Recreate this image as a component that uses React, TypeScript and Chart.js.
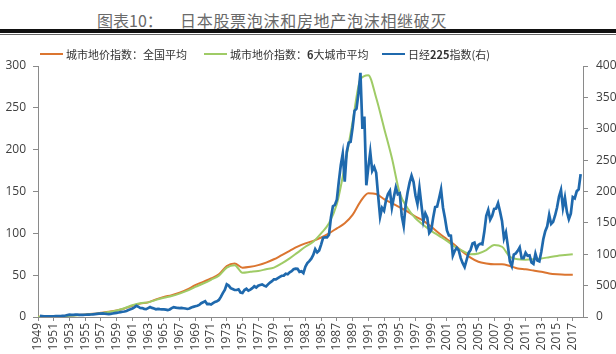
import React, { useEffect, useRef } from "react";
import { Chart, registerables } from "chart.js";

Chart.register(...registerables);

// ---------- DATA ----------
const landStartYear = 1949;
// 城市地价指数：全国平均 (annual, 1949-2017)
const nationalLandIndex = [
  0.3, 0.5, 0.8, 1.2, 1.8, 2.4, 3.0, 3.8, 5.0, 6.2,
  7.8, 10.2, 13.5, 16, 17.5, 21, 24, 26, 29, 33,
  38, 42, 46, 51, 61, 64, 59, 60, 62, 65,
  69, 74, 79, 84, 88, 91, 95, 100, 106, 112,
  122, 138, 148, 147, 141, 136, 131, 126, 120, 115,
  108, 100, 93, 86, 78, 71, 66, 64, 63, 63,
  61, 58, 57, 55.5, 54, 52, 51, 50.5, 50.5,
];
// 城市地价指数：6大城市平均 (annual, 1949-2017)
const sixCitiesLandIndex = [
  0.2, 0.4, 0.7, 1.0, 1.5, 2.0, 2.7, 3.5, 4.6, 6.0,
  7.8, 10.5, 14, 16.5, 17.5, 20.5, 23, 25, 28, 31.5,
  36, 40, 44.5, 49.5, 59, 62, 53, 54, 55, 57,
  59, 64, 70, 77, 84, 90, 100, 112, 135, 180,
  233, 284, 289, 262, 226, 190, 148, 130, 118, 110,
  103, 97, 91, 84, 79, 75, 76, 80, 86, 84,
  72, 69, 68.5, 69, 70, 71.5, 73, 74, 75,
];
// 日经225指数 (quarter-end closes, from 1949 Q2)
const nikkeiStart = 1949.25;
const nikkeiStep = 0.25;
const nikkeiQuarterly = [
  176, 150, 118, 109,
  100, 92, 95, 101,
  125, 140, 155, 166,
  200, 240, 300, 362,
  340, 350, 365, 377,
  350, 335, 340, 356,
  365, 375, 395, 425,
  460, 490, 525, 549,
  570, 520, 490, 474,
  510, 560, 610, 666,
  720, 780, 830, 874,
  960, 1100, 1220, 1356,
  1550, 1780, 1640, 1432,
  1420, 1300, 1250, 1420,
  1580, 1450, 1350, 1226,
  1300, 1250, 1220, 1216,
  1180, 1100, 1200, 1417,
  1560, 1500, 1440, 1430,
  1450, 1400, 1350, 1283,
  1350, 1500, 1620, 1715,
  1800, 1920, 2200, 2358,
  2500, 2050, 2100, 1987,
  2200, 2400, 2500, 2714,
  3200, 3800, 4300, 5207,
  5000, 4600, 4450, 4306,
  4300, 4400, 3900, 3817,
  4300, 4500, 4200, 4358,
  4600, 4900, 4700, 4990,
  5100, 5200, 5000, 4866,
  5200, 5500, 5700, 6001,
  6000, 6200, 6400, 6569,
  6600, 6900, 6800, 7116,
  7300, 7600, 7700, 7681,
  7200, 7300, 7000, 8016,
  8600, 8900, 9300, 9893,
  10800, 10300, 10600, 11542,
  12600, 12700, 12700, 13113,
  15860, 17654, 17853, 18701,
  21566, 24176, 26011, 21564,
  26260, 27769, 27924, 30159,
  32839, 33183, 35637, 38916,
  29980, 31940, 20984, 23849,
  26292, 23291, 23916, 22984,
  19346, 15951, 17399, 16925,
  18591, 19590, 20106, 17417,
  19112, 20644, 19564, 19723,
  16140, 14517, 17913, 19868,
  21407, 22531, 21556, 19361,
  18003, 20605, 17888, 15259,
  16527, 15830, 13406, 13842,
  15837, 17530, 17605, 18934,
  20337, 17411, 15747, 13786,
  12999, 12969, 9775, 10543,
  11025, 10622, 9383, 8579,
  7973, 9083, 10219, 10677,
  11715, 11858, 10824, 11489,
  11669, 11584, 13574, 16111,
  17060, 15505, 16128, 17226,
  17288, 18138, 16786, 15308,
  12526, 13481, 11260, 8860,
  8110, 9958, 10133, 10546,
  11090, 9383, 9369, 10229,
  9755, 9816, 8700, 8455,
  10084, 9007, 8870, 10395,
  12398, 13677, 14456, 16291,
  14828, 15162, 16174, 17451,
  19207, 20236, 17388, 19034,
  16759, 15576, 16450, 19114,
  18909, 20033, 20356, 22765,
];

const xTickYears = [
  1949, 1951, 1953, 1955, 1957, 1959, 1961, 1963, 1965, 1967, 1969, 1971,
  1973, 1975, 1977, 1979, 1981, 1983, 1985, 1987, 1989, 1991, 1993, 1995,
  1997, 1999, 2001, 2003, 2005, 2007, 2009, 2011, 2013, 2015, 2017,
];

const seriesNames = ["城市地价指数：全国平均", "城市地价指数：6大城市平均", "日经225指数(右)"];
const seriesColors = ["#DB7530", "#9FCB66", "#1F69AD"];

const TITLE_PREFIX = "图表10：";
const TITLE_MAIN = "日本股票泡沫和房地产泡沫相继破灭";

// ---------- COMPONENT ----------
export default function App() {
  const canvasRef = useRef<HTMLCanvasElement | null>(null);

  useEffect(() => {
    const canvas = canvasRef.current;
    if (!canvas) return;
    const axisColor = "#8a8a8a";
    const textColor = "#404040";
    const font = { family: "'Open Sans', sans-serif", size: 12 };

    const chart = new Chart(canvas, {
      type: "line",
      data: {
        datasets: [
          {
            label: seriesNames[0],
            data: nationalLandIndex.map((v, i) => ({ x: landStartYear + i, y: v })),
            borderColor: seriesColors[0],
            backgroundColor: seriesColors[0],
            borderWidth: 2,
            pointRadius: 0,
            cubicInterpolationMode: "monotone",
            yAxisID: "y",
            order: 3,
          },
          {
            label: seriesNames[1],
            data: sixCitiesLandIndex.map((v, i) => ({ x: landStartYear + i, y: v })),
            borderColor: seriesColors[1],
            backgroundColor: seriesColors[1],
            borderWidth: 2,
            pointRadius: 0,
            cubicInterpolationMode: "monotone",
            yAxisID: "y",
            order: 2,
          },
          {
            label: seriesNames[2],
            data: nikkeiQuarterly.map((v, i) => ({ x: nikkeiStart + i * nikkeiStep, y: v })),
            borderColor: seriesColors[2],
            backgroundColor: seriesColors[2],
            borderWidth: 2.7,
            pointRadius: 0,
            tension: 0,
            yAxisID: "y1",
            order: 1,
          },
        ],
      },
      options: {
        animation: false,
        responsive: false,
        devicePixelRatio: 1,
        layout: { padding: { top: 29, left: 0, right: 0, bottom: 0 } },
        plugins: {
          legend: { display: false },
          tooltip: { enabled: false },
          title: { display: false },
        },
        scales: {
          x: {
            type: "linear",
            min: 1949,
            max: 2018.3,
            afterBuildTicks: (scale: any) => {
              scale.ticks = xTickYears.map((v) => ({ value: v }));
            },
            afterFit: (scale: any) => {
              scale.height = 37;
            },
            ticks: {
              autoSkip: false,
              minRotation: 90,
              maxRotation: 90,
              padding: 2,
              color: textColor,
              font,
              callback: (v: any) => String(v),
            },
            grid: { drawOnChartArea: false, drawTicks: true, tickLength: 4, color: axisColor },
            border: { display: true, color: axisColor, width: 1 },
          },
          y: {
            position: "left",
            min: 0,
            max: 300,
            afterFit: (scale: any) => {
              scale.width = 38;
            },
            ticks: { stepSize: 50, padding: 7, color: textColor, font },
            grid: { drawOnChartArea: false, drawTicks: true, tickLength: 5, color: axisColor },
            border: { display: true, color: axisColor, width: 1 },
          },
          y1: {
            position: "right",
            min: 0,
            max: 40000,
            afterFit: (scale: any) => {
              scale.width = 33;
            },
            ticks: {
              stepSize: 5000,
              padding: 8,
              color: textColor,
              font,
              callback: (v: any) => String(v),
            },
            grid: { drawOnChartArea: false, drawTicks: true, tickLength: 5, color: axisColor },
            border: { display: true, color: axisColor, width: 1 },
          },
        },
      },
    } as any);

    return () => chart.destroy();
  }, []);

  const legendLefts = [40, 204, 382];
  const legendLineW = 23;

  const renderName = (name: string) => {
    const parts = name.split(/(\d+)/);
    return parts.map((p, i) =>
      /^\d+$/.test(p) ? (
        <span key={i} style={{ fontWeight: 700 }}>{p}</span>
      ) : (
        <span key={i}>{p}</span>
      )
    );
  };

  return (
    <div
      style={{
        position: "absolute",
        left: 0,
        top: 0,
        width: 616,
        height: 354,
        overflow: "hidden",
        background: "#ffffff",
        fontFamily: "'Noto Sans CJK SC', sans-serif",
      }}
    >
      <div
        style={{
          position: "absolute",
          left: 97,
          top: 11,
          fontSize: 16,
          lineHeight: "18px",
          color: "#6a6a6a",
          whiteSpace: "nowrap",
        }}
      >
        {TITLE_PREFIX}
      </div>
      <div
        style={{
          position: "absolute",
          left: 180,
          top: 11,
          fontSize: 16,
          lineHeight: "18px",
          letterSpacing: "0.7px",
          color: "#6a6a6a",
          whiteSpace: "nowrap",
        }}
      >
        {TITLE_MAIN}
      </div>
      <div style={{ position: "absolute", left: 0, top: 29, width: 616, height: 4, background: "#111" }} />
      <div style={{ position: "absolute", left: 0, top: 34, width: 616, height: 1, background: "#666" }} />

      <canvas
        ref={canvasRef}
        width={616}
        height={317}
        style={{ position: "absolute", left: 0, top: 37, width: 616, height: 317 }}
      />

      {seriesNames.map((name, i) => (
        <div
          key={name}
          style={{
            position: "absolute",
            left: legendLefts[i],
            top: 46,
            height: 16,
            display: "flex",
            alignItems: "center",
            whiteSpace: "nowrap",
            fontSize: 11,
            color: "#333",
          }}
        >
          <span
            style={{
              display: "inline-block",
              width: legendLineW,
              height: 2,
              background: seriesColors[i],
              marginRight: 3,
            }}
          />
          <span style={{ fontFamily: "'Noto Sans CJK SC', 'Open Sans', sans-serif" }}>{renderName(name)}</span>
        </div>
      ))}
    </div>
  );
}
